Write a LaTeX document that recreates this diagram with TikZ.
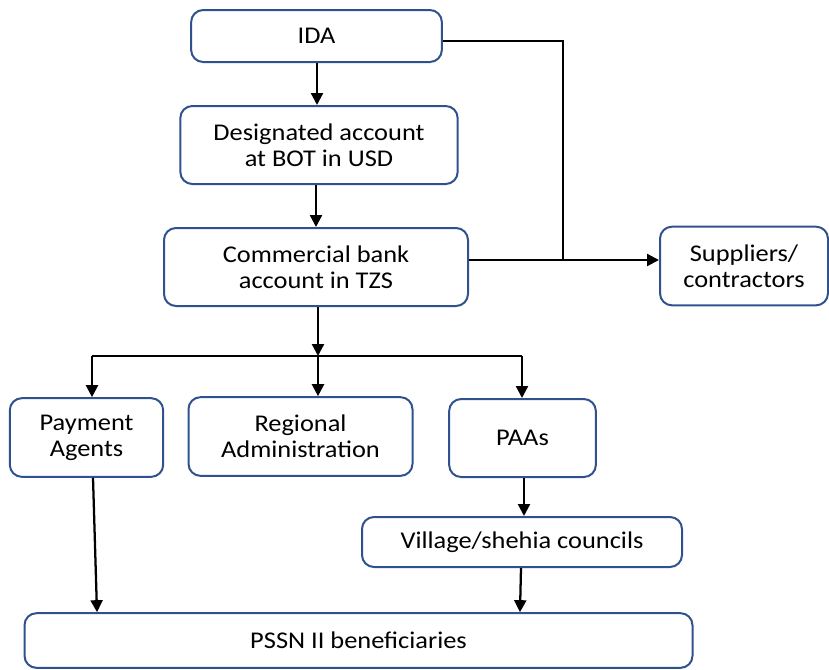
\documentclass[tikz,border=0pt]{standalone}
\usepackage{fontspec}
\setmainfont{Carlito}[FakeStretch=1.1]
\usepackage{tikz}
\usetikzlibrary{arrows.meta,positioning,calc}
\definecolor{boxblue}{RGB}{47,82,143}
\tikzset{
    x=0.75pt, y=-0.75pt, % one unit is one pixel of the sketch
    >={Triangle[length=9pt,width=9pt]},
    box/.style={draw=boxblue, line width=1.5pt, rounded corners=9pt, align=center,
        font=\fontsize{18}{19.5}\selectfont},
    arr/.style={->, line width=1.7pt},
    line/.style={line width=1.7pt},
}

\begin{document}
\begin{tikzpicture}
    \useasboundingbox (0,0) rectangle (829,669);
    \node[box, minimum width=188pt, minimum height=39pt] (ida) at (316.5,36) {IDA};
    \node[box, minimum width=208pt, minimum height=58.5pt] (des) at (319,145) {Designated account\\at BOT in USD};
    \node[box, minimum width=228pt, minimum height=58.5pt] (com) at (316,267) {Commercial bank\\account in TZS};
    \node[box, minimum width=126pt, minimum height=59pt] (sup) at (744,266) {Suppliers/\\contractors};
    \node[box, minimum width=115pt, minimum height=59pt] (pay) at (86.5,437.5) {Payment\\Agents};
    \node[box, minimum width=168pt, minimum height=59pt] (reg) at (300.5,436.5) {Regional\\Administration};
    \node[box, minimum width=110pt, minimum height=58.5pt] (paa) at (522.5,438) {PAAs};
    \node[box, minimum width=240pt, minimum height=37.5pt] (vil) at (522,542) {Village/shehia councils};
    \node[box, minimum width=501pt, minimum height=41pt] (pssn) at (358.5,640.5) {PSSN II beneficiaries};

    % main channel
    \draw[arr] (ida.south -| 317,0) -- (des.north -| 317,0);
    \draw[arr] (des.south -| 316,0) -- (com.north -| 316,0);
    \coordinate (split) at (318,356);
    \coordinate (splitL) at (92,356);
    \coordinate (splitR) at (522,356);
    \draw[arr] (com.south -| split) -- (split);
    \draw[line] (splitL) -- (splitR);
    \draw[arr] (splitL) -- (splitL |- pay.north);
    \draw[arr] (split) -- (split |- reg.north);
    \draw[arr] (splitR) -- (splitR |- paa.north);

    % direct payments
    \coordinate (elbow) at (563,260);
    \draw[line] (ida.east |- 0,41) -| (elbow);
    \draw[arr] (com.east |- elbow) -- (sup.west |- elbow);

    % to the beneficiaries
    \draw[arr] (pay.south -| 93,0) -- (pssn.north -| 97,0);
    \draw[arr] (paa.south -| 524,0) -- (vil.north -| 524,0);
    \draw[arr] (vil.south -| 521,0) -- (pssn.north -| 520,0);
\end{tikzpicture}
\end{document}
